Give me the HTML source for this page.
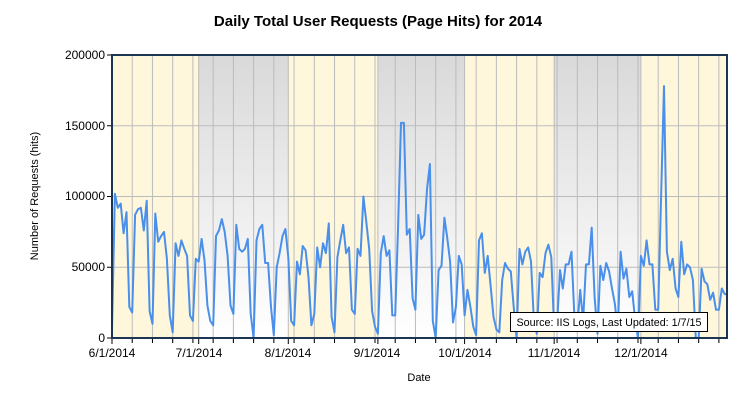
<!DOCTYPE html>
<html><head><meta charset="utf-8"><style>
body{margin:0;background:#fff;width:750px;height:400px;overflow:hidden;font-family:"Liberation Sans",sans-serif}
</style></head><body>
<svg id="s" width="750" height="400" xmlns="http://www.w3.org/2000/svg" font-family="Liberation Sans, sans-serif">
<defs><linearGradient id="g" x1="0" y1="0" x2="0" y2="1"><stop offset="0" stop-color="#d9d9d9"/><stop offset="1" stop-color="#ffffff"/></linearGradient></defs>
<text x="378" y="26" text-anchor="middle" font-size="15" font-weight="bold" fill="#000">Daily Total User Requests (Page Hits) for 2014</text>
<g id="plot"></g>
<text x="105" y="59" text-anchor="end" font-size="12">200000</text>
<text x="105" y="130" text-anchor="end" font-size="12">150000</text>
<text x="105" y="200" text-anchor="end" font-size="12">100000</text>
<text x="105" y="271" text-anchor="end" font-size="12">50000</text>
<text x="105" y="342" text-anchor="end" font-size="12">0</text>
<text transform="translate(38,196) rotate(-90)" text-anchor="middle" font-size="11">Number of Requests (hits)</text>
<text x="419" y="381" text-anchor="middle" font-size="11">Date</text>
<g font-size="12" text-anchor="middle">
<text x="112" y="357">6/1/2014</text><text x="199" y="357">7/1/2014</text><text x="288" y="357">8/1/2014</text><text x="377" y="357">9/1/2014</text><text x="465" y="357">10/1/2014</text><text x="554" y="357">11/1/2014</text><text x="641" y="357">12/1/2014</text>
</g>
<rect x="510.5" y="312.5" width="197" height="19" fill="#fff" stroke="#000"/>
<text x="609" y="326" text-anchor="middle" font-size="11" textLength="185" lengthAdjust="spacingAndGlyphs">Source: IIS Logs, Last Updated: 1/7/15</text>
</svg>
<script>
var v=[5.6,102,92,95,74,89,22,18,87,91,92,76,97,19,10,88,68,72,75,56,16,4,67,58,69,63,58,16,12,56,54,70,55,23,12,9,72,76,84,75,58,23,17,80,63,61,63,70,17,0,69,77,80,53,53,22,2,50,60,72,77,57,12,9,54,45,65,62,43,9,17,64,50,67,60,81,15,4,57,69,80,60,64,
20,17,63,58,100,82,63,19,8,3,60,72,58,62,16,16,79,152,152,73,77,28,20,87,70,73,105,123,12,0,48,51,85,71,54,11,22,58,52,16,34,22,8,2,69,74,46,58,37,15,6,4,41,53,49,47,22,0,63,52,61,64,54,12,3,46,43,60,66,
57,5,10,48,35,52,52,61,15,8,34,12,52,52,78,29,3,51,41,53,47,35,24,5,61,42,49,29,33,13,0,58,51,69,52,52,20,20,100,178,61,48,56,35,29,68,45,52,50,41,0,0,49,40,38,27,32,20,20,35,31,31];
var L=112,T=55,R=727,B=338,dx=2.89;
function X(d){return L+d*dx}function Y(k){return B-k*1000*(B-T)/200000}
var h='<rect x="'+L+'" y="'+T+'" width="'+(R-L)+'" height="'+(B-T)+'" fill="#fff7dc"/>';
[[30,61],[92,122],[153,183]].forEach(function(a){h+='<rect x="'+X(a[0])+'" y="'+T+'" width="'+(X(a[1])-X(a[0]))+'" height="'+(B-T)+'" fill="url(#g)"/>';});
for(var d=7;d<214;d+=7)h+='<line x1="'+X(d)+'" y1="'+T+'" x2="'+X(d)+'" y2="'+(B+5)+'" stroke="#bbb"/><line x1="'+X(d)+'" y1="'+B+'" x2="'+X(d)+'" y2="'+(B+5)+'" stroke="#000"/>';
[0,30,61,92,122,153,183].forEach(function(d){h+='<line x1="'+X(d)+'" y1="'+T+'" x2="'+X(d)+'" y2="'+B+'" stroke="#bbb"/><line x1="'+X(d)+'" y1="'+B+'" x2="'+X(d)+'" y2="'+(B+6)+'" stroke="#000"/>';});
[50,100,150].forEach(function(k){h+='<line x1="'+L+'" y1="'+Y(k)+'" x2="'+R+'" y2="'+Y(k)+'" stroke="#bbb"/>';});
[0,50,100,150,200].forEach(function(k){h+='<line x1="'+(L-5)+'" y1="'+Y(k)+'" x2="'+L+'" y2="'+Y(k)+'" stroke="#000"/>';});
var p=v.map(function(k,i){return X(i).toFixed(1)+','+Y(k).toFixed(1)}).join(' ');
h+='<polyline points="'+p+'" fill="none" stroke="#4a8fea" stroke-width="2" stroke-linejoin="round"/>';
h+='<rect x="'+L+'" y="'+T+'" width="'+(R-L)+'" height="'+(B-T)+'" fill="none" stroke="#1c3553" stroke-width="2"/>';
document.getElementById('plot').innerHTML=h;
</script>
</body></html>
